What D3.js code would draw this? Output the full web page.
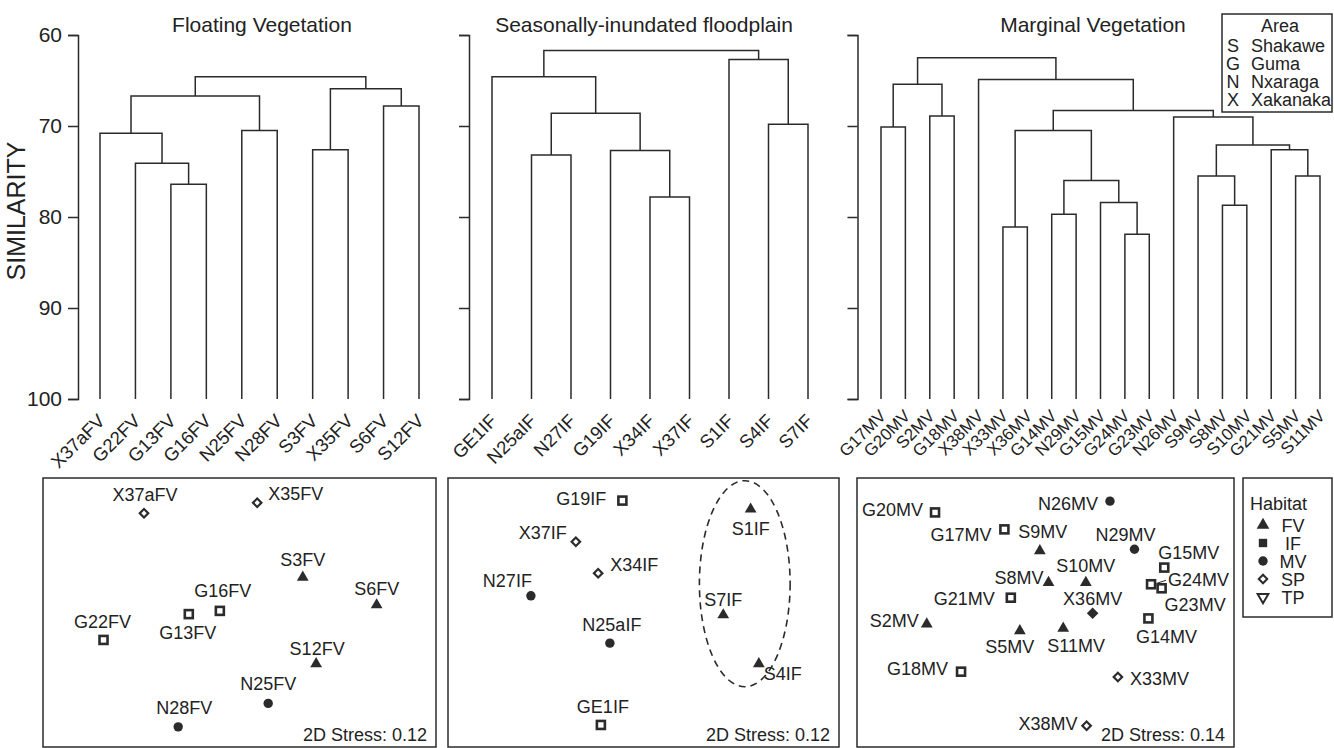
<!DOCTYPE html>
<html>
<head>
<meta charset="utf-8">
<script src="https://cdn.jsdelivr.net/npm/d3@7"></script>
<style>
body { margin: 0; background: #fff; }
text { font-family: "Liberation Sans", Arial, sans-serif; fill: #222; }
</style>
</head>
<body>
<script>
// dendrograms: [similarity at merge, left, right]; strings are leaves
var fvTree = [64.6,
  [66.7, [70.8, "X37aFV", [74.1, "G22FV", [76.4, "G13FV", "G16FV"]]], [70.5, "N25FV", "N28FV"]],
  [65.9, [72.6, "S3FV", "X35FV"], [67.8, "S6FV", "S12FV"]]]

var ifTree = [61.7,
  [64.6, "GE1IF", [68.6, [73.2, "N25aIF", "N27IF"], [72.7, "G19IF", [77.8, "X34IF", "X37IF"]]]],
  [62.7, "S1IF", [69.8, "S4IF", "S7IF"]]]

var mvTree = [62.5,
  [65.4, [70.1, "G17MV", "G20MV"], [68.9, "S2MV", "G18MV"]],
  [64.9, "X38MV",
    [68.3,
      [70.5, [81.1, "X33MV", "X36MV"], [76.0, [79.7, "G14MV", "N29MV"], [78.4, "G15MV", [81.9, "G24MV", "G23MV"]]]],
      [69.0, "N26MV", [72.1, [75.5, "S9MV", [78.7, "S8MV", "S10MV"]], [72.6, "G21MV", [75.5, "S5MV", "S11MV"]]]]]]]

var simTicks = [60, 70, 80, 90, 100]

// MDS ordinations (arbitrary 0-100 units)
var fvNames = ["X37aFV", "X35FV", "S3FV", "S6FV", "G16FV", "G13FV", "G22FV", "S12FV", "N25FV", "N28FV"]
var fvX = [25.7, 54.5, 66.1, 84.9, 45.0, 37.1, 15.4, 69.5, 57.3, 34.4]
var fvY = [86.9, 90.8, 63.1, 52.8, 50.6, 49.4, 39.8, 30.9, 16.2, 7.5]

var ifNames = ["G19IF", "S1IF", "X37IF", "X34IF", "N27IF", "S7IF", "N25aIF", "S4IF", "GE1IF"]
var ifX = [44.6, 77.4, 32.7, 38.4, 21.2, 70.4, 41.4, 79.5, 39.1]
var ifY = [91.6, 88.4, 76.3, 64.6, 56.2, 49.1, 38.6, 30.9, 8.2]

var mvNames = ["G20MV", "N26MV", "G17MV", "S9MV", "N29MV", "G15MV", "S10MV", "S8MV", "G24MV", "G23MV",
  "G21MV", "X36MV", "G14MV", "S2MV", "S5MV", "S11MV", "G18MV", "X33MV", "X38MV"]
var mvX = [20.7, 67.1, 39.1, 48.5, 73.6, 81.5, 60.7, 50.8, 78.0, 80.8, 40.8, 62.5, 77.3, 18.5, 43.2, 54.7, 27.6, 69.2, 60.9]
var mvY = [87.2, 91.4, 80.9, 72.9, 73.5, 66.7, 61.1, 61.1, 60.5, 59.0, 55.5, 49.7, 47.8, 45.7, 43.2, 44.1, 28.0, 26.0, 7.9]

var stressValues = ["0.12", "0.12", "0.14"]

// S1IF / S4IF / S7IF group ellipse: centre x, y, half width, half height
var sGroup = [75.9, 60.7, 11.6, 38.3]

var areaCodes = ["S", "G", "N", "X"]
var areaNames = ["Shakawe", "Guma", "Nxaraga", "Xakanaka"]
var habitats = ["FV", "IF", "MV", "SP", "TP"]

var ink = "#2b2b2b"
var font = '"Liberation Sans", Arial, sans-serif'

var svg = d3.select("body").append("svg").attr("width", 1334).attr("height", 748)

var y = d3.scaleLinear().domain([60, 100]).range([35, 399])

function drawDendro(tree, x0, x1, axisX, withLabels, leafSize, leafY) {
  var root = d3.hierarchy(tree, d => Array.isArray(d) ? d.slice(1) : null)
  var x = d3.scalePoint().domain(root.leaves().map(d => d.data)).range([x0, x1])
  root.eachAfter(n => {
    if (n.children) { n.px = d3.mean(n.children, c => c.px); n.h = n.data[0] }
    else { n.px = x(n.data); n.h = 100 }
  })
  var g = svg.append("g")

  g.selectAll("path").data(root.descendants().filter(n => n.children)).enter()
    .append("path")
    .attr("d", n => {
      var a = n.children[0], b = n.children[1]
      return "M" + a.px + "," + y(a.h) + "V" + y(n.h) + "H" + b.px + "V" + y(b.h)
    })
    .attr("fill", "none").attr("stroke", ink).attr("stroke-width", 1.5)

  var axis = d3.axisLeft(y).tickValues(simTicks).tickSize(10).tickSizeOuter(10).tickPadding(6)
  if (!withLabels) axis.tickFormat("")
  var ag = g.append("g").attr("transform", "translate(" + axisX + ",0)").call(axis)
  ag.select(".domain").attr("stroke", ink).attr("stroke-width", 1.5)
  ag.selectAll(".tick line").attr("stroke", ink).attr("stroke-width", 1.5)
  ag.selectAll(".tick text").attr("font-size", 21).style("font-family", font).attr("fill", ink)

  g.selectAll("text.leaf").data(root.leaves()).enter()
    .append("text").attr("class", "leaf")
    .attr("transform", n => "translate(" + (n.px + 6) + "," + leafY + ") rotate(-45)")
    .attr("text-anchor", "end")
    .style("font-size", leafSize + "px")
    .text(n => n.data)
}

drawDendro(fvTree, 100, 419, 78, true, 18.5, 422)
drawDendro(ifTree, 492, 808, 469, false, 18.5, 422)
drawDendro(mvTree, 881, 1320, 857.5, false, 17, 417)

svg.append("text").attr("x", 262).attr("y", 32).attr("text-anchor", "middle").style("font-size", "21px").text("Floating Vegetation")
svg.append("text").attr("x", 644).attr("y", 32).attr("text-anchor", "middle").style("font-size", "21px").text("Seasonally-inundated floodplain")
svg.append("text").attr("x", 1093).attr("y", 32).attr("text-anchor", "middle").style("font-size", "21px").text("Marginal Vegetation")

svg.append("text").attr("transform", "translate(25,211) rotate(-90)").attr("text-anchor", "middle")
  .style("font-size", "25px").text("SIMILARITY")

// Area legend
var area = svg.append("g")
area.append("rect").attr("x", 1222).attr("y", 14).attr("width", 110).attr("height", 98)
  .attr("fill", "white").attr("stroke", ink).attr("stroke-width", 1.5)
area.append("text").attr("x", 1280).attr("y", 32).attr("text-anchor", "middle").style("font-size", "18px").text("Area")
areaCodes.forEach((c, i) => {
  area.append("text").attr("x", 1233).attr("y", 52 + i * 18).attr("text-anchor", "middle").style("font-size", "18px").text(c)
  area.append("text").attr("x", 1251).attr("y", 52 + i * 18).style("font-size", "18px").text(areaNames[i])
})

// markers
var filledDiamonds = ["X36MV"]

function marker(g, name, cx, cy) {
  var k = name[0]
  if (k == "S") {
    g.append("path").attr("d", d3.symbol(d3.symbolTriangle, 60)()).attr("transform", "translate(" + cx + "," + cy + ")").attr("fill", ink)
  } else if (k == "G") {
    g.append("rect").attr("x", cx - 4).attr("y", cy - 4).attr("width", 8).attr("height", 8)
      .attr("fill", "white").attr("stroke", ink).attr("stroke-width", 2.6)
  } else if (k == "N") {
    g.append("circle").attr("cx", cx).attr("cy", cy).attr("r", 4.7).attr("fill", ink)
  } else {
    g.append("path").attr("d", d3.symbol(d3.symbolSquare, 36)())
      .attr("transform", "translate(" + cx + "," + cy + ") rotate(45)")
      .attr("fill", filledDiamonds.includes(name) ? ink : "white").attr("stroke", ink).attr("stroke-width", 2.2)
  }
}

// label placement: [anchor, dx, dy]
var fvPlace = {
  X37aFV: ["middle", 1, -12], X35FV: ["start", 11, -3], S3FV: ["middle", 0, -11], S6FV: ["middle", 0, -10],
  G16FV: ["middle", 3, -14], G13FV: ["middle", -1, 25], G22FV: ["middle", -1, -12], S12FV: ["middle", 1, -9],
  N25FV: ["middle", 0, -13], N28FV: ["middle", 6, -13]
}
var ifPlace = {
  G19IF: ["end", -16, 4], S1IF: ["middle", 0, 26], X37IF: ["end", -9, -3], X34IF: ["start", 12, -2],
  N27IF: ["end", 1, -9], S7IF: ["middle", 0, -9], N25aIF: ["middle", 2, -12], S4IF: ["start", 5, 16],
  GE1IF: ["middle", 2, -12]
}
var mvPlace = {
  G20MV: ["end", -12, 4], N26MV: ["end", -12, 9], G17MV: ["end", -13, 12], S9MV: ["middle", 3, -13],
  N29MV: ["middle", -9, -8], G15MV: ["start", -6, -9], S10MV: ["middle", 0, -11], S8MV: ["end", -5, 1],
  G24MV: ["start", 17, 2], G23MV: ["start", 3, 23], G21MV: ["end", -16, 7], X36MV: ["middle", 0, -8],
  G14MV: ["middle", 18, 25], S2MV: ["end", -8, 3], S5MV: ["middle", -10, 22], S11MV: ["middle", 13, 24],
  G18MV: ["end", -13, 3], X33MV: ["start", 12, 8], X38MV: ["end", -9, 4]
}
var leaders = ["G24MV"]

function drawOrd(x0, x1, names, xs, ys, place, stress) {
  var y0 = 478, y1 = 747
  var sx = d3.scaleLinear().domain([0, 100]).range([x0, x1])
  var sy = d3.scaleLinear().domain([0, 100]).range([y1, y0])
  var g = svg.append("g")
  g.append("rect").attr("x", x0).attr("y", y0).attr("width", x1 - x0).attr("height", y1 - y0)
    .attr("fill", "none").attr("stroke", ink).attr("stroke-width", 1.5)
  names.forEach((n, i) => {
    var cx = sx(xs[i]), cy = sy(ys[i])
    if (leaders.includes(n)) {
      g.append("line").attr("x1", cx + 6).attr("y1", cy - 1).attr("x2", cx + 15).attr("y2", cy - 4)
        .attr("stroke", ink).attr("stroke-width", 1)
    }
    marker(g, n, cx, cy)
    var p = place[n]
    g.append("text").attr("x", cx + p[1]).attr("y", cy + p[2]).attr("text-anchor", p[0])
      .style("font-size", "18px").text(n)
  })
  g.append("text").attr("x", x1 - 9).attr("y", y1 - 6).attr("text-anchor", "end")
    .style("font-size", "18px").text("2D Stress: " + stress)
  return { g: g, sx: sx, sy: sy }
}

drawOrd(43, 436, fvNames, fvX, fvY, fvPlace, stressValues[0])
var pIF = drawOrd(448, 839, ifNames, ifX, ifY, ifPlace, stressValues[1])
drawOrd(857, 1234, mvNames, mvX, mvY, mvPlace, stressValues[2])

pIF.g.append("ellipse")
  .attr("cx", pIF.sx(sGroup[0])).attr("cy", pIF.sy(sGroup[1]))
  .attr("rx", pIF.sx(sGroup[2]) - pIF.sx(0)).attr("ry", pIF.sy(0) - pIF.sy(sGroup[3]))
  .attr("fill", "none").attr("stroke", ink).attr("stroke-width", 1.6).attr("stroke-dasharray", "7,5")

// Habitat legend
var hab = svg.append("g")
hab.append("rect").attr("x", 1243).attr("y", 478).attr("width", 89).attr("height", 139)
  .attr("fill", "white").attr("stroke", ink).attr("stroke-width", 1.5)
hab.append("text").attr("x", 1250).attr("y", 510).style("font-size", "18px").text("Habitat")
var habSym = [d3.symbolTriangle, d3.symbolSquare, d3.symbolCircle, d3.symbolSquare, d3.symbolTriangle]
habitats.forEach((h, i) => {
  var cy = 525 + i * 18
  var s = hab.append("path").attr("d", d3.symbol(habSym[i], i == 3 ? 36 : (i == 4 ? 50 : 70))())
  if (i < 3) s.attr("fill", ink).attr("transform", "translate(1263," + cy + ")")
  else s.attr("fill", "white").attr("stroke", ink).attr("stroke-width", 2)
    .attr("transform", "translate(1263," + cy + ") rotate(" + (i == 3 ? 45 : 180) + ")")
  hab.append("text").attr("x", 1293).attr("y", cy + 7).attr("text-anchor", "middle").style("font-size", "18px").text(h)
})
</script>
</body>
</html>
